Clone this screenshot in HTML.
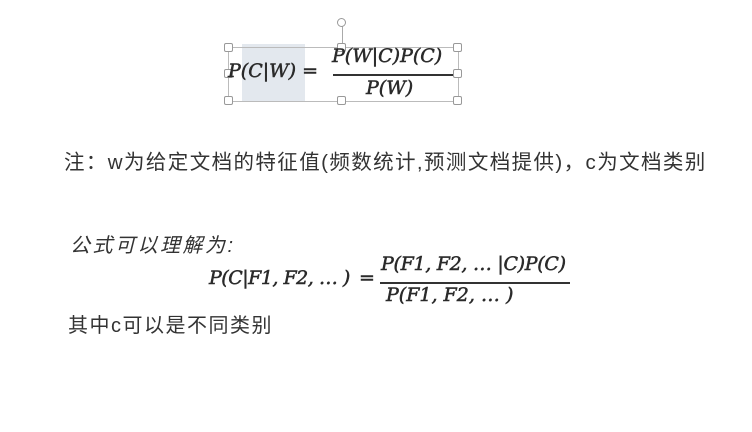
<!DOCTYPE html>
<html><head><meta charset="utf-8"><style>
body{margin:0;width:752px;height:432px;background:#fff;position:relative;overflow:hidden;font-family:"Liberation Sans","Noto Sans CJK SC",sans-serif;color:#222}
.a{position:absolute;white-space:nowrap}
.m{font-family:"DejaVu Serif","Noto Serif CJK SC",serif;font-style:italic;color:#2a2a2a;font-size:19px;-webkit-text-stroke:0.5px #2a2a2a}
.h{position:absolute;width:7px;height:7px;border:1px solid #999;background:#fff;border-radius:2px}
.cj{font-size:20px;color:#333}
</style></head><body>
<div style="position:absolute;left:242px;top:44px;width:63px;height:57px;background:#e3e8ee"></div>
<div style="position:absolute;left:228px;top:47px;width:229px;height:53px;border:1px solid #bbb"></div>
<div style="position:absolute;left:342px;top:25px;width:1px;height:20px;background:#aaa"></div>
<div class="h" style="left:337px;top:18px;border-radius:50%"></div>
<div class="h" style="left:224px;top:43px"></div><div class="h" style="left:337px;top:43px"></div><div class="h" style="left:453px;top:43px"></div>
<div class="h" style="left:224px;top:69px"></div><div class="h" style="left:453px;top:69px"></div>
<div class="h" style="left:224px;top:96px"></div><div class="h" style="left:337px;top:96px"></div><div class="h" style="left:453px;top:96px"></div>
<div class="a m" style="left:228px;top:60px">P(C|W) =</div>
<div class="a m" style="left:332px;top:45px">P(W|C)P(C)</div>
<div style="position:absolute;left:333px;top:74px;width:120px;height:2px;background:#333"></div>
<div class="a m" style="left:366px;top:77px">P(W)</div>
<div class="a cj" style="left:64px;top:145px;font-size:20.5px;letter-spacing:1.4px">注：w为给定文档的特征值(频数统计,预测文档提供)，c为文档类别</div>
<div class="a cj" style="left:70px;top:229px;font-style:italic;letter-spacing:2.5px">公式可以理解为:</div>
<div class="a m" style="left:209px;top:267px;letter-spacing:-0.5px">P(C|F1, F2, … )</div>
<div class="a m" style="left:359px;top:267px">=</div>
<div class="a m" style="left:381px;top:253px;letter-spacing:-0.3px">P(F1, F2, … |C)P(C)</div>
<div style="position:absolute;left:380px;top:282px;width:190px;height:2px;background:#333"></div>
<div class="a m" style="left:386px;top:284px">P(F1, F2, … )</div>
<div class="a cj" style="left:68px;top:309px;letter-spacing:1.5px">其中c可以是不同类别</div>
</body></html>
